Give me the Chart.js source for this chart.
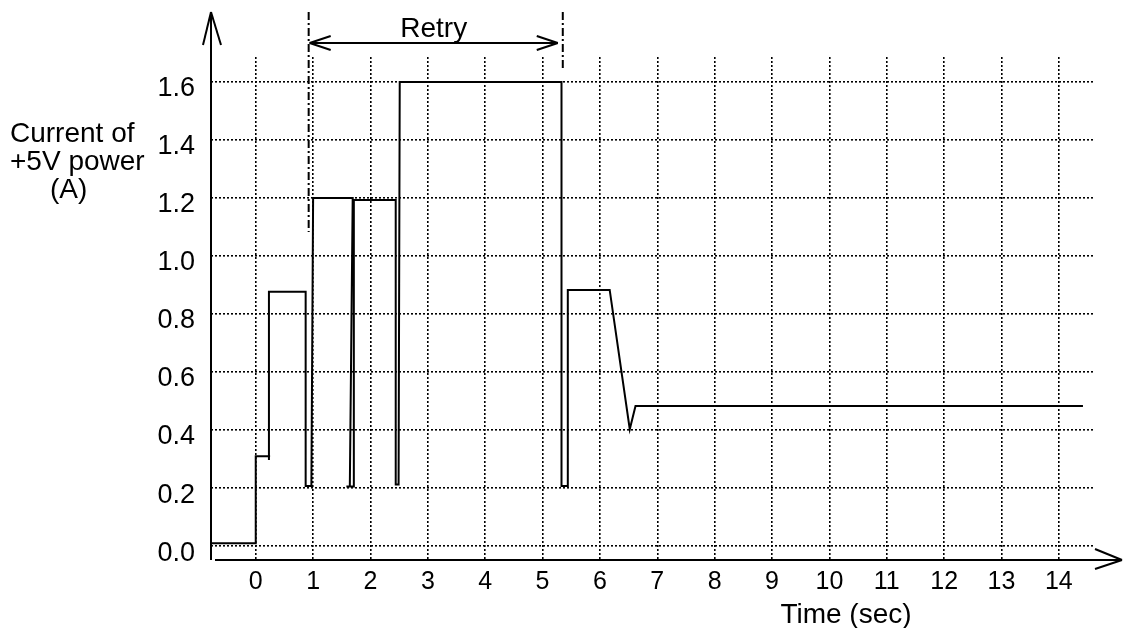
<!DOCTYPE html>
<html>
<head>
<meta charset="utf-8">
<script src="https://cdn.jsdelivr.net/npm/chart.js@4.4.1/dist/chart.umd.min.js"></script>
<style>
html,body{margin:0;padding:0;background:#fff;}
canvas{display:block;}
</style>
</head>
<body>
<canvas id="c" width="1131" height="628"></canvas>
<script>
// ---- data ----
const timeSec = [-0.78, 0.0, 0.0, 0.25, 0.23, 0.23, 0.23, 0.87, 0.87, 0.97, 1.0, 1.69, 1.64, 1.58, 1.71, 1.71, 2.44, 2.44, 2.49, 2.51, 5.33, 5.33, 5.44, 5.44, 6.17, 6.52, 6.62, 14.42];
const currentA = [0.01, 0.01, 0.31, 0.31, 0.31, 0.297, 0.877, 0.877, 0.207, 0.207, 1.2, 1.2, 0.205, 0.205, 0.205, 1.193, 1.193, 0.212, 0.212, 1.6, 1.6, 0.207, 0.207, 0.883, 0.883, 0.403, 0.483, 0.483];
const xTicks = [0,1,2,3,4,5,6,7,8,9,10,11,12,13,14];
const yTicks = [0.0,0.2,0.4,0.6,0.8,1.0,1.2,1.4,1.6];
const retryStart = 0.94, retryEnd = 5.30;
const yTitleLines = ["Current of", "+5V power", "(A)"];
const xTitle = "Time (sec)";
const retryLabel = "Retry";

const FONT = "'Liberation Sans', Arial, Helvetica, sans-serif";

const points = timeSec.map((t, i) => ({x: t, y: currentA[i]}));

const decor = {
  id: 'decor',
  afterDraw(chart) {
    const ctx = chart.ctx, xs = chart.scales.x, ys = chart.scales.y, ca = chart.chartArea;
    const X = v => xs.getPixelForValue(v), Y = v => ys.getPixelForValue(v);
    const seg = (x1,y1,x2,y2) => {ctx.beginPath(); ctx.moveTo(x1,y1); ctx.lineTo(x2,y2); ctx.stroke();};
    ctx.save();
    ctx.strokeStyle = '#000'; ctx.fillStyle = '#000'; ctx.lineWidth = 2;
    // y axis with arrow
    const ax = ca.left;
    seg(ax, ca.bottom, ax, 12);
    seg(ax, 12, ax - 8, 45); seg(ax, 12, ax + 10, 45);
    // x axis with arrow
    const tipX = ca.right + 27;
    seg(ca.left + 4, ca.bottom, tipX, ca.bottom);
    seg(tipX - 27, ca.bottom - 11, tipX, ca.bottom); seg(tipX - 27, ca.bottom + 9, tipX, ca.bottom);
    // dash-dot markers for retry
    ctx.setLineDash([8,3,2,3]);
    seg(X(retryStart) - 1, 12, X(retryStart) - 1, Y(1.083));
    seg(X(retryEnd) + 3, 12, X(retryEnd) + 3, Y(1.641));
    ctx.setLineDash([]);
    // double arrow
    const ay = 43, x1 = X(retryStart), x2 = X(retryEnd) - 2;
    seg(x1, ay, x2, ay);
    seg(x1, ay, x1 + 21, ay - 7); seg(x1, ay, x1 + 21, ay + 7);
    seg(x2, ay, x2 - 21, ay - 7); seg(x2, ay, x2 - 21, ay + 7);
    // texts
    ctx.font = '28px ' + FONT;
    ctx.textBaseline = 'alphabetic';
    ctx.textAlign = 'center';
    ctx.fillText(retryLabel, (x1 + x2) / 2, 37);
    ctx.fillText(xTitle, 846, 623);
    ctx.textAlign = 'left';
    ctx.fillText(yTitleLines[0], 10, 142);
    ctx.fillText(yTitleLines[1], 10, 170);
    ctx.fillText(yTitleLines[2], 50, 198);
    ctx.restore();
  }
};

new Chart(document.getElementById('c'), {
  type: 'scatter',
  data: {
    datasets: [{
      data: points,
      showLine: true,
      borderColor: '#000',
      borderWidth: 2,
      pointRadius: 0,
      tension: 0,
      fill: false
    }]
  },
  options: {
    responsive: false,
    animation: false,
    layout: {padding: {left: 0, top: 57, right: 36, bottom: 0}},
    plugins: {legend: {display: false}, tooltip: {enabled: false}},
    scales: {
      x: {
        type: 'linear', min: -0.78, max: 14.63,
        afterBuildTicks: s => { s.ticks = xTicks.map(v => ({value: v})); },
        afterFit: s => { s.height = 68; },
        grid: {color: '#000', lineWidth: 1.6, drawTicks: false},
        border: {display: false, dash: [2, 2]},
        ticks: {color: '#000', font: {family: FONT, size: 25}, padding: 7, maxRotation: 0, autoSkip: false,
                callback: v => String(v)}
      },
      y: {
        type: 'linear', min: -0.048, max: 1.686,
        afterBuildTicks: s => { s.ticks = yTicks.map(v => ({value: v})); },
        afterFit: s => { s.width = 211; },
        grid: {color: '#000', lineWidth: 1.6, drawTicks: false},
        border: {display: false, dash: [2, 2]},
        ticks: {color: '#000', font: {family: FONT, size: 27}, padding: 16, labelOffset: 7,
                callback: v => Number(v).toFixed(1)}
      }
    }
  },
  plugins: [decor]
});
</script>
</body>
</html>
